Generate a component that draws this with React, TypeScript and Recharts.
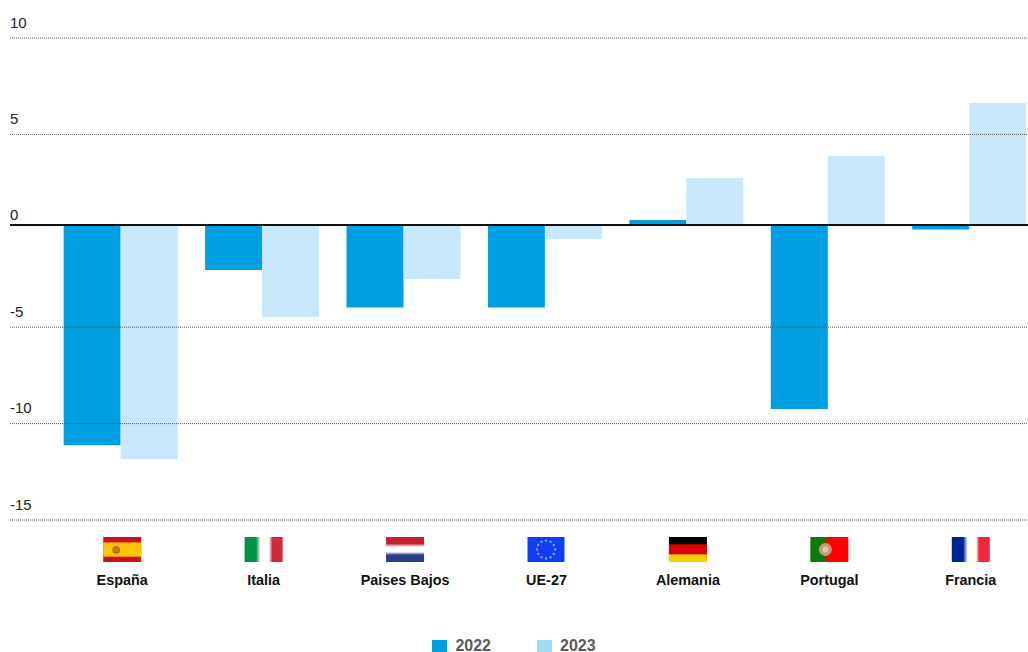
import React from "react";
import { ComposedChart, Bar, Line, XAxis, YAxis, ReferenceLine, Legend } from "recharts";

const categories = ["España", "Italia", "Paises Bajos", "UE-27", "Alemania", "Portugal", "Francia"];
const values2022 = [-11.42, -2.33, -4.28, -4.28, 0.26, -9.54, -0.23];
const values2023 = [-12.15, -4.77, -2.8, -0.73, 2.44, 3.58, 6.33];
const tickValues = [10, 5, 0, -5, -10, -15];
const dottedValues = [10, 5, -5, -10, -15];

const COLOR_2022 = "#009fe3";
const COLOR_2023 = "#c9e7fb";
const LEGEND_2023 = "#a3d9f8";
const FONT = "'Liberation Sans', Arial, sans-serif";

const rows = categories.map((name, i) => ({ name, y2022: values2022[i], y2023: values2023[i] }));

const W = 38;
const H = 25;

function Stripes({ id, stops, vertical }: { id: string; stops: [number, string][]; vertical?: boolean }) {
  return (
    <>
      <defs>
        <linearGradient id={id} x1="0" x2={vertical ? "0" : "1"} y1="0" y2={vertical ? "1" : "0"}>
          {stops.map(([o, c], i) => (
            <stop key={i} offset={o} stopColor={c} />
          ))}
        </linearGradient>
      </defs>
      <rect width={W} height={H} fill={`url(#${id})`} />
    </>
  );
}

function Flag({ name }: { name: string }) {
  switch (name) {
    case "España":
      return (
        <g>
          <rect width={W} height={H} fill="#c8101e" />
          <rect y={5.5} width={W} height={14.2} fill="#ffc400" />
          <circle cx={13} cy={13} r={4} fill="#b9772a" />
        </g>
      );
    case "Italia":
      return (
        <Stripes
          id="flag-it"
          stops={[
            [0, "#009246"],
            [0.3, "#009246"],
            [0.42, "#ffffff"],
            [0.64, "#ffffff"],
            [0.73, "#ce2b37"],
            [1, "#ce2b37"],
          ]}
        />
      );
    case "Paises Bajos":
      return (
        <Stripes
          id="flag-nl"
          vertical
          stops={[
            [0, "#c8202f"],
            [0.26, "#c8202f"],
            [0.4, "#ffffff"],
            [0.6, "#ffffff"],
            [0.72, "#27408b"],
            [1, "#27408b"],
          ]}
        />
      );
    case "UE-27":
      return (
        <g>
          <rect width={37} height={H} fill="#0f3cf5" />
          {Array.from({ length: 12 }).map((_, i) => (
            <circle
              key={i}
              cx={18.5 + 9 * Math.cos((i * Math.PI) / 6)}
              cy={12.5 + 9 * Math.sin((i * Math.PI) / 6)}
              r={1.2}
              fill="#8fa0d8"
            />
          ))}
        </g>
      );
    case "Alemania":
      return (
        <g>
          <rect width={W} height={H} fill="#000000" />
          <rect y={7.3} width={W} height={10} fill="#dd0000" />
          <rect y={17.3} width={W} height={7.7} fill="#ffce00" />
        </g>
      );
    case "Portugal":
      return (
        <g>
          <Stripes
            id="flag-pt"
            stops={[
              [0, "#0a7a10"],
              [0.34, "#0a7a10"],
              [0.46, "#ff0000"],
              [1, "#ff0000"],
            ]}
          />
          <circle cx={15} cy={12.5} r={6.5} fill="#c89a78" />
          <circle cx={15} cy={12.5} r={3} fill="#dcc4a8" />
        </g>
      );
    default:
      return (
        <Stripes
          id="flag-fr"
          stops={[
            [0, "#002395"],
            [0.3, "#002395"],
            [0.42, "#ffffff"],
            [0.64, "#ffffff"],
            [0.72, "#ed2939"],
            [1, "#ed2939"],
          ]}
        />
      );
  }
}

function CategoryTick({ x, y, payload }: any) {
  const cx = x + 2;
  return (
    <g>
      <g transform={`translate(${cx - W / 2},${y + 17})`}>
        <Flag name={payload.value} />
      </g>
      <text x={cx} y={y + 65} textAnchor="middle" fontFamily={FONT} fontWeight={700} fontSize={14.4} fill="#111">
        {payload.value}
      </text>
    </g>
  );
}

function ValueTick({ y, payload }: any) {
  return (
    <text x={10} y={y - 10.5} fontFamily={FONT} fontSize={15} fill="#222">
      {payload.value}
    </text>
  );
}

function LegendContent() {
  const items: [string, string][] = [
    ["2022", COLOR_2022],
    ["2023", LEGEND_2023],
  ];
  return (
    <div style={{ display: "flex", justifyContent: "center", gap: 46, height: 12, alignItems: "center" }}>
      {items.map(([label, color]) => (
        <div key={label} style={{ display: "flex", alignItems: "center", gap: 8 }}>
          <span style={{ display: "inline-block", width: 15, height: 13, background: color }} />
          <span style={{ fontFamily: FONT, fontWeight: 700, fontSize: 16, lineHeight: "12px", color: "#5a5a5a" }}>{label}</span>
        </div>
      ))}
    </div>
  );
}

export default function App() {
  return (
    <div style={{ position: "absolute", left: 0, top: 0, width: 1028, height: 652, overflow: "hidden", background: "#fff" }}>
      <ComposedChart
        width={1039.5}
        height={652}
        data={rows}
        margin={{ top: 38, right: 0, bottom: 0, left: 0 }}
        barCategoryGap="10%"
        barGap={0}
      >
        <XAxis
          dataKey="name"
          xAxisId="cat"
          axisLine={false}
          tickLine={false}
          tickSize={0}
          tickMargin={0}
          height={120}
          interval={0}
          padding={{ left: 39.5, right: 0 }}
          tick={<CategoryTick />}
        />
        <YAxis
          yAxisId="grid"
          domain={[-15, 10]}
          ticks={tickValues}
          interval={0}
          width={10}
          axisLine={false}
          tickLine={false}
          tick={<ValueTick />}
        />
        <YAxis yAxisId="bars" domain={[-15.3, 9.7]} hide />
        <Line
          xAxisId="cat"
          yAxisId="grid"
          dataKey="y2022"
          stroke="none"
          dot={false}
          activeDot={false}
          legendType="none"
          isAnimationActive={false}
        />
        <Bar xAxisId="cat" yAxisId="bars" dataKey="y2022" fill={COLOR_2022} isAnimationActive={false} />
        <Bar xAxisId="cat" yAxisId="bars" dataKey="y2023" fill={COLOR_2023} isAnimationActive={false} />
        {dottedValues.map((v) => (
          <ReferenceLine key={v} xAxisId="cat" yAxisId="grid" y={v} stroke="#555" strokeWidth={1} strokeDasharray="1 1" />
        ))}
        <ReferenceLine xAxisId="cat" yAxisId="bars" y={0} stroke="#111" strokeWidth={2} />
        <Legend verticalAlign="bottom" content={<LegendContent />} wrapperStyle={{ left: 0, width: 1028 }} />
      </ComposedChart>
    </div>
  );
}
